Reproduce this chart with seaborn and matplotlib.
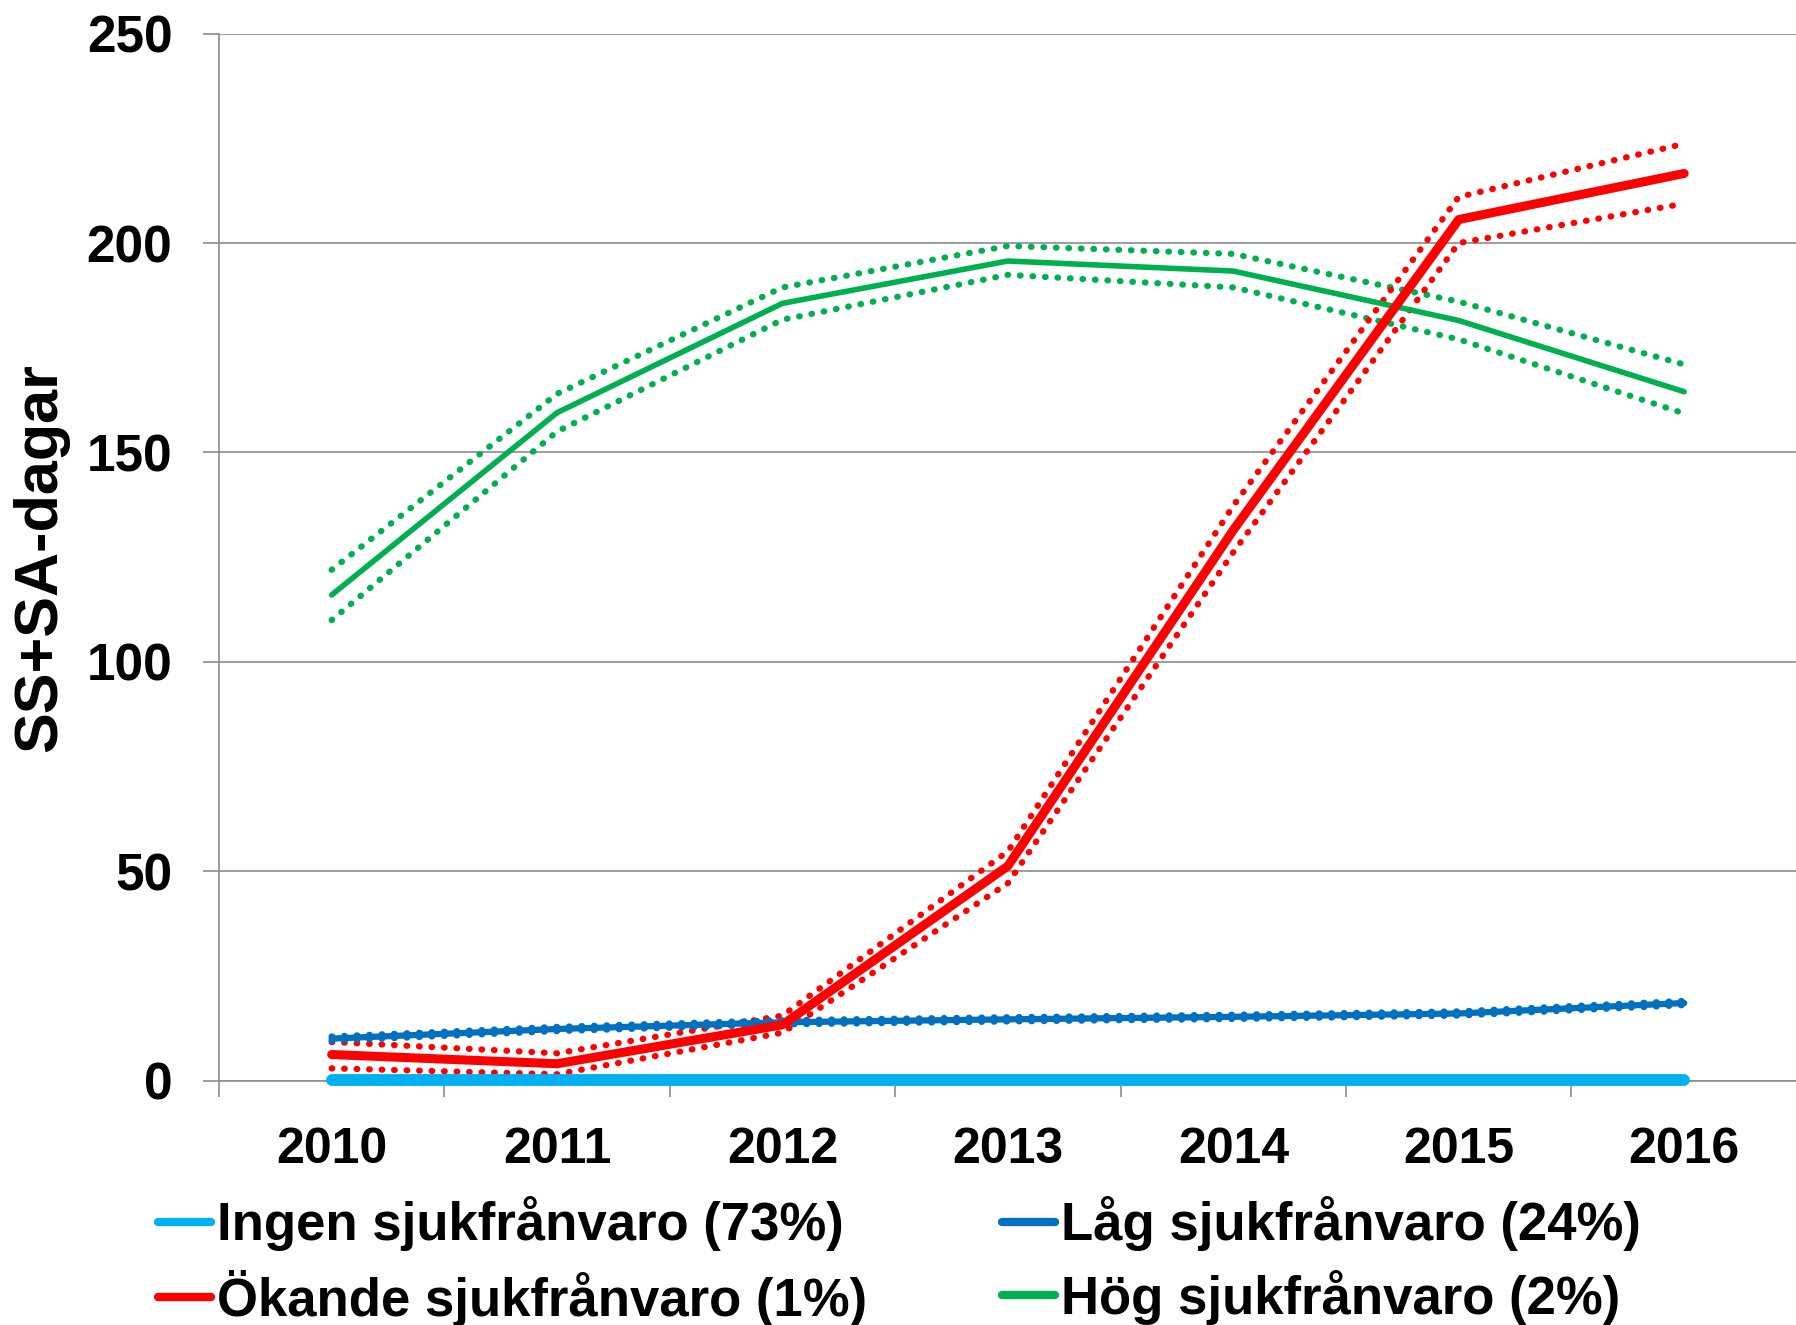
import matplotlib
matplotlib.use("Agg")
import matplotlib.pyplot as plt
import seaborn as sns
from matplotlib.lines import Line2D
from matplotlib.ticker import FixedLocator

# Data
years = ["2010", "2011", "2012", "2013", "2014", "2015", "2016"]

ingen = [0.3, 0.3, 0.3, 0.3, 0.3, 0.3, 0.3]

lag = [10.1, 12.4, 14.0, 14.7, 15.3, 16.1, 18.6]
lag_hi = [10.6, 12.9, 14.5, 15.2, 15.8, 16.6, 19.1]
lag_lo = [9.6, 11.9, 13.5, 14.2, 14.8, 15.6, 18.1]

okande = [6.3, 4.1, 13.4, 51.3, 131.5, 205.6, 216.6]
okande_hi = [9.3, 6.6, 15.6, 54.8, 137.3, 211.0, 223.7]
okande_lo = [3.0, 1.6, 11.5, 47.2, 126.2, 200.0, 209.4]

hog = [116.0, 159.5, 185.6, 195.7, 193.3, 181.5, 164.5]
hog_hi = [122.0, 164.0, 189.4, 199.3, 197.4, 186.0, 171.0]
hog_lo = [110.0, 155.0, 181.7, 192.4, 189.4, 177.0, 159.3]

labels = ["Ingen sjukfrånvaro (73%)", "Låg sjukfrånvaro (24%)",
          "Ökande sjukfrånvaro (1%)", "Hög sjukfrånvaro (2%)"]
colors = ["#00B0F0", "#0070C0", "#FF0000", "#00B050"]

sns.set_style("white")
plt.rcParams["font.family"] = ["Liberation Sans", "DejaVu Sans"]
plt.rcParams["font.weight"] = "bold"
plt.rcParams["text.color"] = "black"
plt.rcParams["axes.labelcolor"] = "black"

fig = plt.figure(figsize=(17.96, 13.25), dpi=100)
ax = fig.add_axes([0.1219, 0.1842, 0.8786, 0.7905])

x = list(range(len(years)))
dot = (0, (0.1, 1.9))

# confidence bands as dotted lines
for hi, lo, c in [(hog_hi, hog_lo, colors[3]), (okande_hi, okande_lo, colors[2]),
                  (lag_hi, lag_lo, colors[1])]:
    for vals in (hi, lo):
        sns.lineplot(x=x, y=vals, ax=ax, color=c, linewidth=4.5, linestyle=dot,
                     dash_capstyle="round", clip_on=False, zorder=3)

# main lines
for vals, c, w in [(hog, colors[3], 4.0), (lag, colors[1], 4.5),
                   (okande, colors[2], 6.5), (ingen, colors[0], 8.5)]:
    sns.lineplot(x=x, y=vals, ax=ax, color=c, linewidth=w, solid_capstyle="round",
                 clip_on=False, zorder=4)

ax.set_xlim(-0.5, 6.5)
ax.set_ylim(0, 250)
ax.set_yticks([0, 50, 100, 150, 200, 250])
ax.set_xticks(x)
ax.set_xticklabels(years)
ax.xaxis.set_minor_locator(FixedLocator([i - 0.5 for i in range(8)]))
ax.tick_params(axis="x", which="major", length=0, pad=33, labelsize=36, labelcolor="black")
ax.tick_params(axis="x", which="minor", length=11.5, width=1.2, color="#8C8C8C", bottom=True)
ax.tick_params(axis="y", length=11.5, width=1.2, color="#8C8C8C", pad=22, labelsize=37,
               left=True, labelcolor="black")
for lab in ax.get_xticklabels() + ax.get_yticklabels():
    lab.set_fontweight("bold")

ax.yaxis.grid(True, color="#8C8C8C", lw=1.2)
ax.xaxis.grid(False)
for s in ["top", "right"]:
    ax.spines[s].set_visible(False)
for s in ["left", "bottom"]:
    ax.spines[s].set_color("#8C8C8C")
    ax.spines[s].set_linewidth(1.2)

ax.set_xlabel("")
ax.set_ylabel("SS+SA-dagar", fontsize=44, fontweight="bold", va="center")
ax.yaxis.set_label_coords(-0.113, 0.5)

# legend filled column-wise, so order gives rows: Ingen/Låg, Ökande/Hög
order = [0, 2, 1, 3]
handles = [Line2D([], [], color=colors[i], lw=6, solid_capstyle="round") for i in order]
ax.legend(handles, [labels[i] for i in order], ncol=2, loc="upper left",
          bbox_to_anchor=(158 / 1796, 0.097), bbox_transform=fig.transFigure,
          frameon=False, handlelength=1.0, handletextpad=0.12,
          columnspacing=2.55, labelspacing=0.35, borderpad=0, borderaxespad=0,
          prop={"weight": "bold", "size": 38})

fig.savefig("out.png", dpi=100)
